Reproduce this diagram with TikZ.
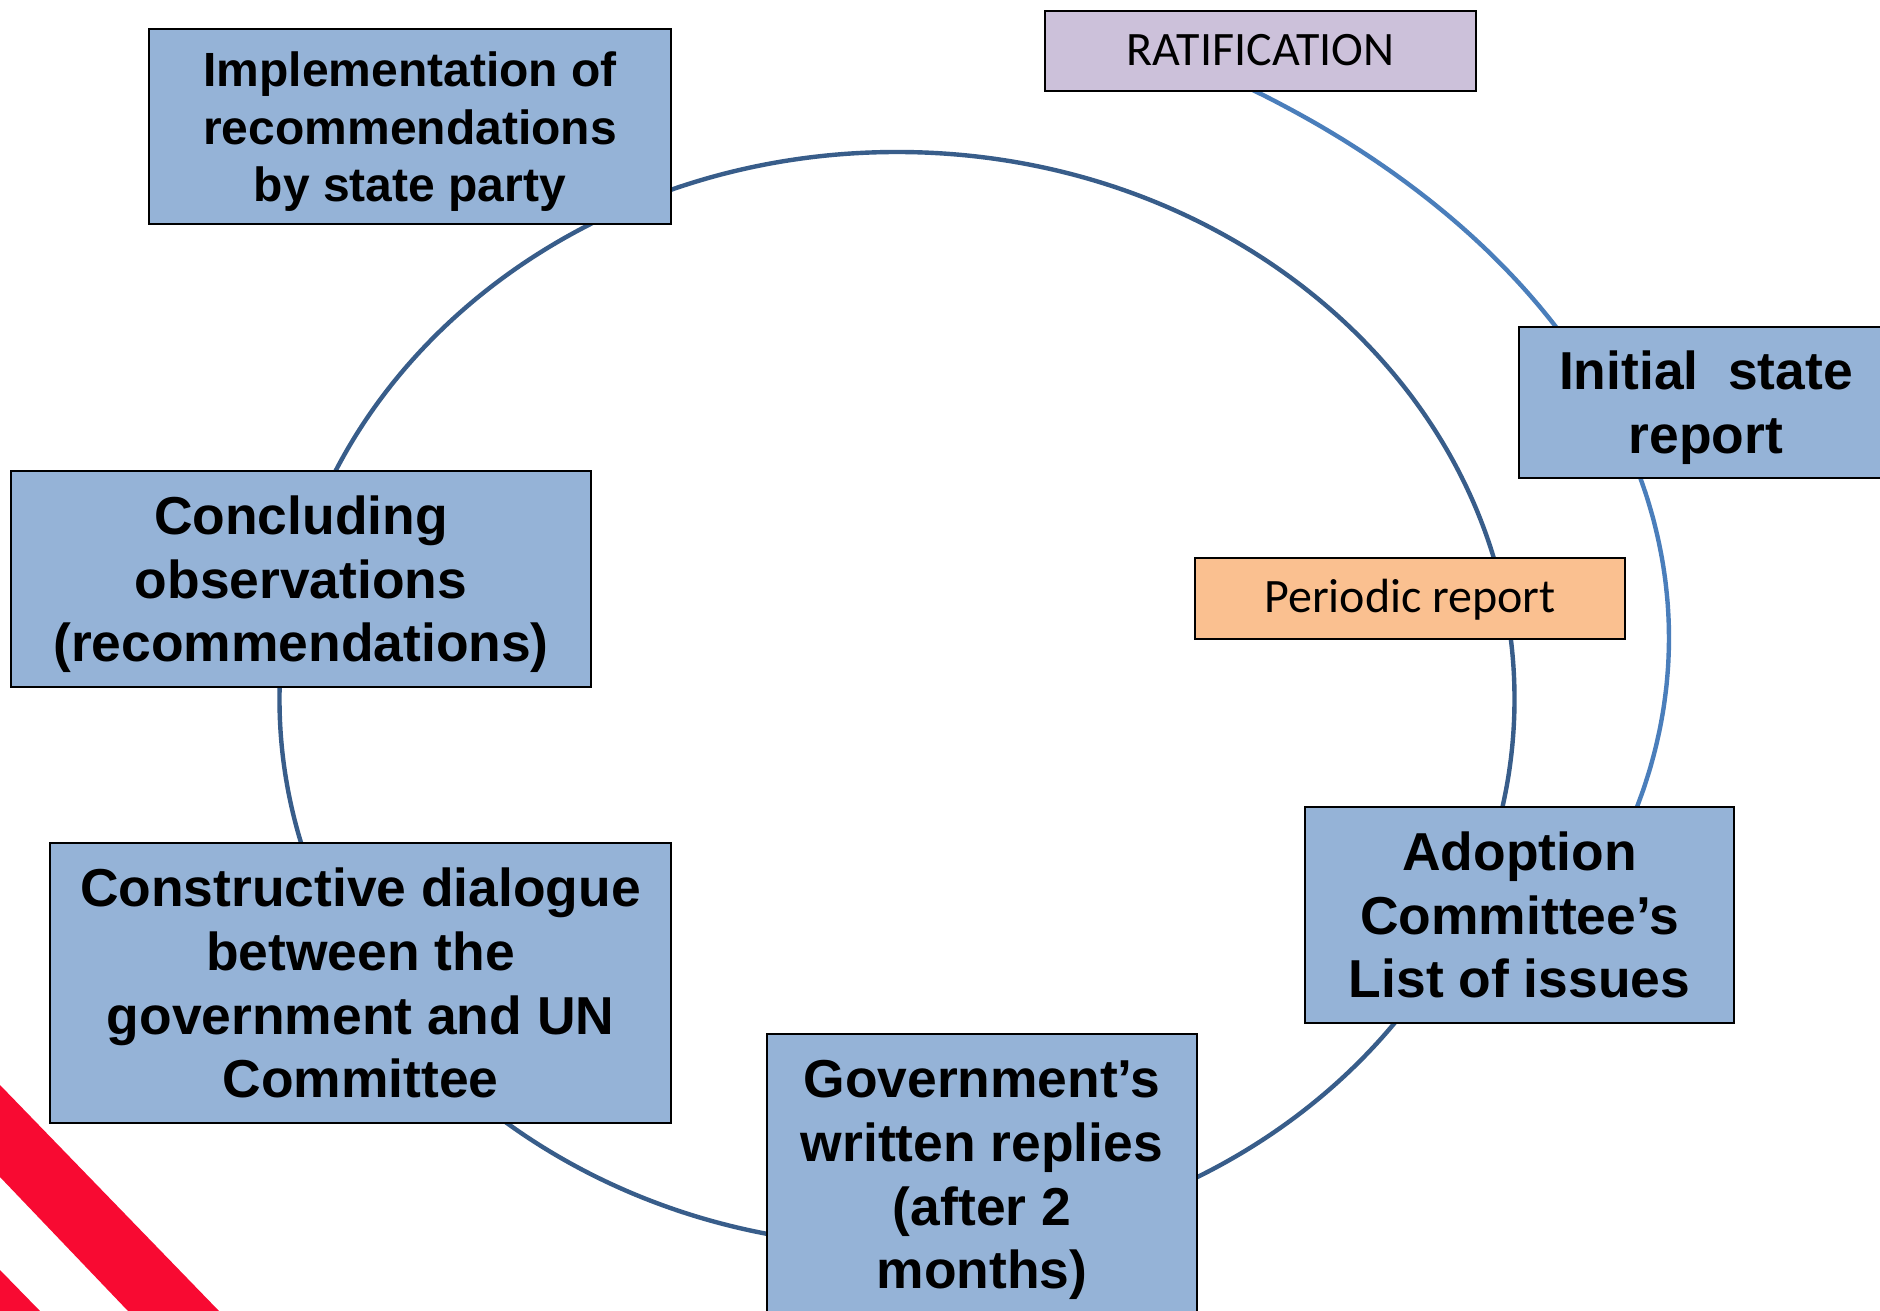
\documentclass[tikz,border=0pt]{standalone}
\usepackage{fontspec}
\newfontfamily\boxfont{Liberation Sans}
\newfontfamily\calfont{Carlito}
\definecolor{boxblue}{HTML}{95B3D7}
\definecolor{ratlav}{HTML}{CCC1DA}
\definecolor{perpeach}{HTML}{FAC090}
\definecolor{innerline}{HTML}{385D8A}
\definecolor{outerline}{HTML}{4A7EBB}
\definecolor{stripered}{HTML}{F80A32}
\newcommand{\bigst}{\rule[-6.3pt]{0pt}{31.8pt}}
\newcommand{\smallst}{\rule[-5.5pt]{0pt}{28.75pt}}
\tikzset{
  stagebox/.style={draw=black, line width=1pt, fill=boxblue, align=center, inner sep=0pt,
    font=\boxfont\bfseries\fontsize{26.7}{31.8}\selectfont},
  smallstage/.style={stagebox, font=\boxfont\bfseries\fontsize{24}{28.75}\selectfont},
  labelbox/.style={draw=black, line width=1pt, inner sep=0pt, text height=18pt, text depth=3.6pt,
    font=\calfont\fontsize{24}{28}\selectfont},
  cycleline/.style={line width=2.2pt, color=innerline},
  outerarc/.style={line width=2.2pt, color=outerline}
}
\begin{document}
\begin{tikzpicture}[x=0.5pt,y=-0.5pt]
\clip (0,0) rectangle (1880,1311);
\fill[white] (0,0) rectangle (1880,1311);
% cycle ellipse
\draw[cycleline] (897,699) ellipse [x radius=617.5, y radius=547];
% outer arc from ratification to adoption
\draw[outerarc] plot[domain=-20:56, samples=120, smooth] ({649+1020*cos(\x)}, {638-680*sin(\x)});
% red stripes
\fill[stripered] (0,1085) -- (219,1311) -- (128,1311) -- (0,1177) -- cycle;
\fill[stripered] (0,1270) -- (40,1311) -- (0,1311) -- cycle;
% nodes
\node[smallstage, minimum width=261pt, minimum height=97.5pt] (impl) at (410,126.5)
  {\smallst Implementation of\\\smallst recommendations\\\smallst by state party};
\node[labelbox, fill=ratlav, minimum width=215.5pt, minimum height=40pt] (ratif) at (1260.5,51)
  {RATIFICATION};
\node[stagebox, minimum width=187pt, minimum height=75.5pt] (init) at (1706,402.5)
  {\bigst Initial\ \ state\\\bigst report};
\node[labelbox, fill=perpeach, minimum width=215pt, minimum height=40.5pt] (period) at (1410,598.5)
  {Periodic report};
\node[stagebox, minimum width=290pt, minimum height=108pt] (concl) at (301,579)
  {\bigst Concluding\\\bigst observations\\\bigst (recommendations)};
\node[stagebox, minimum width=310.5pt, minimum height=140pt] (constr) at (360.5,983)
  {\bigst Constructive dialogue\\\bigst between the\\\bigst government and UN\\\bigst Committee};
\node[stagebox, minimum width=214.5pt, minimum height=108pt] (adopt) at (1519.5,915)
  {\bigst Adoption\\\bigst Committee’s\\\bigst List of issues};
\node[stagebox, minimum width=215pt, minimum height=140pt] (gov) at (982,1174)
  {\bigst Government’s\\\bigst written replies\\\bigst (after 2\\\bigst months)};
\end{tikzpicture}
\end{document}
